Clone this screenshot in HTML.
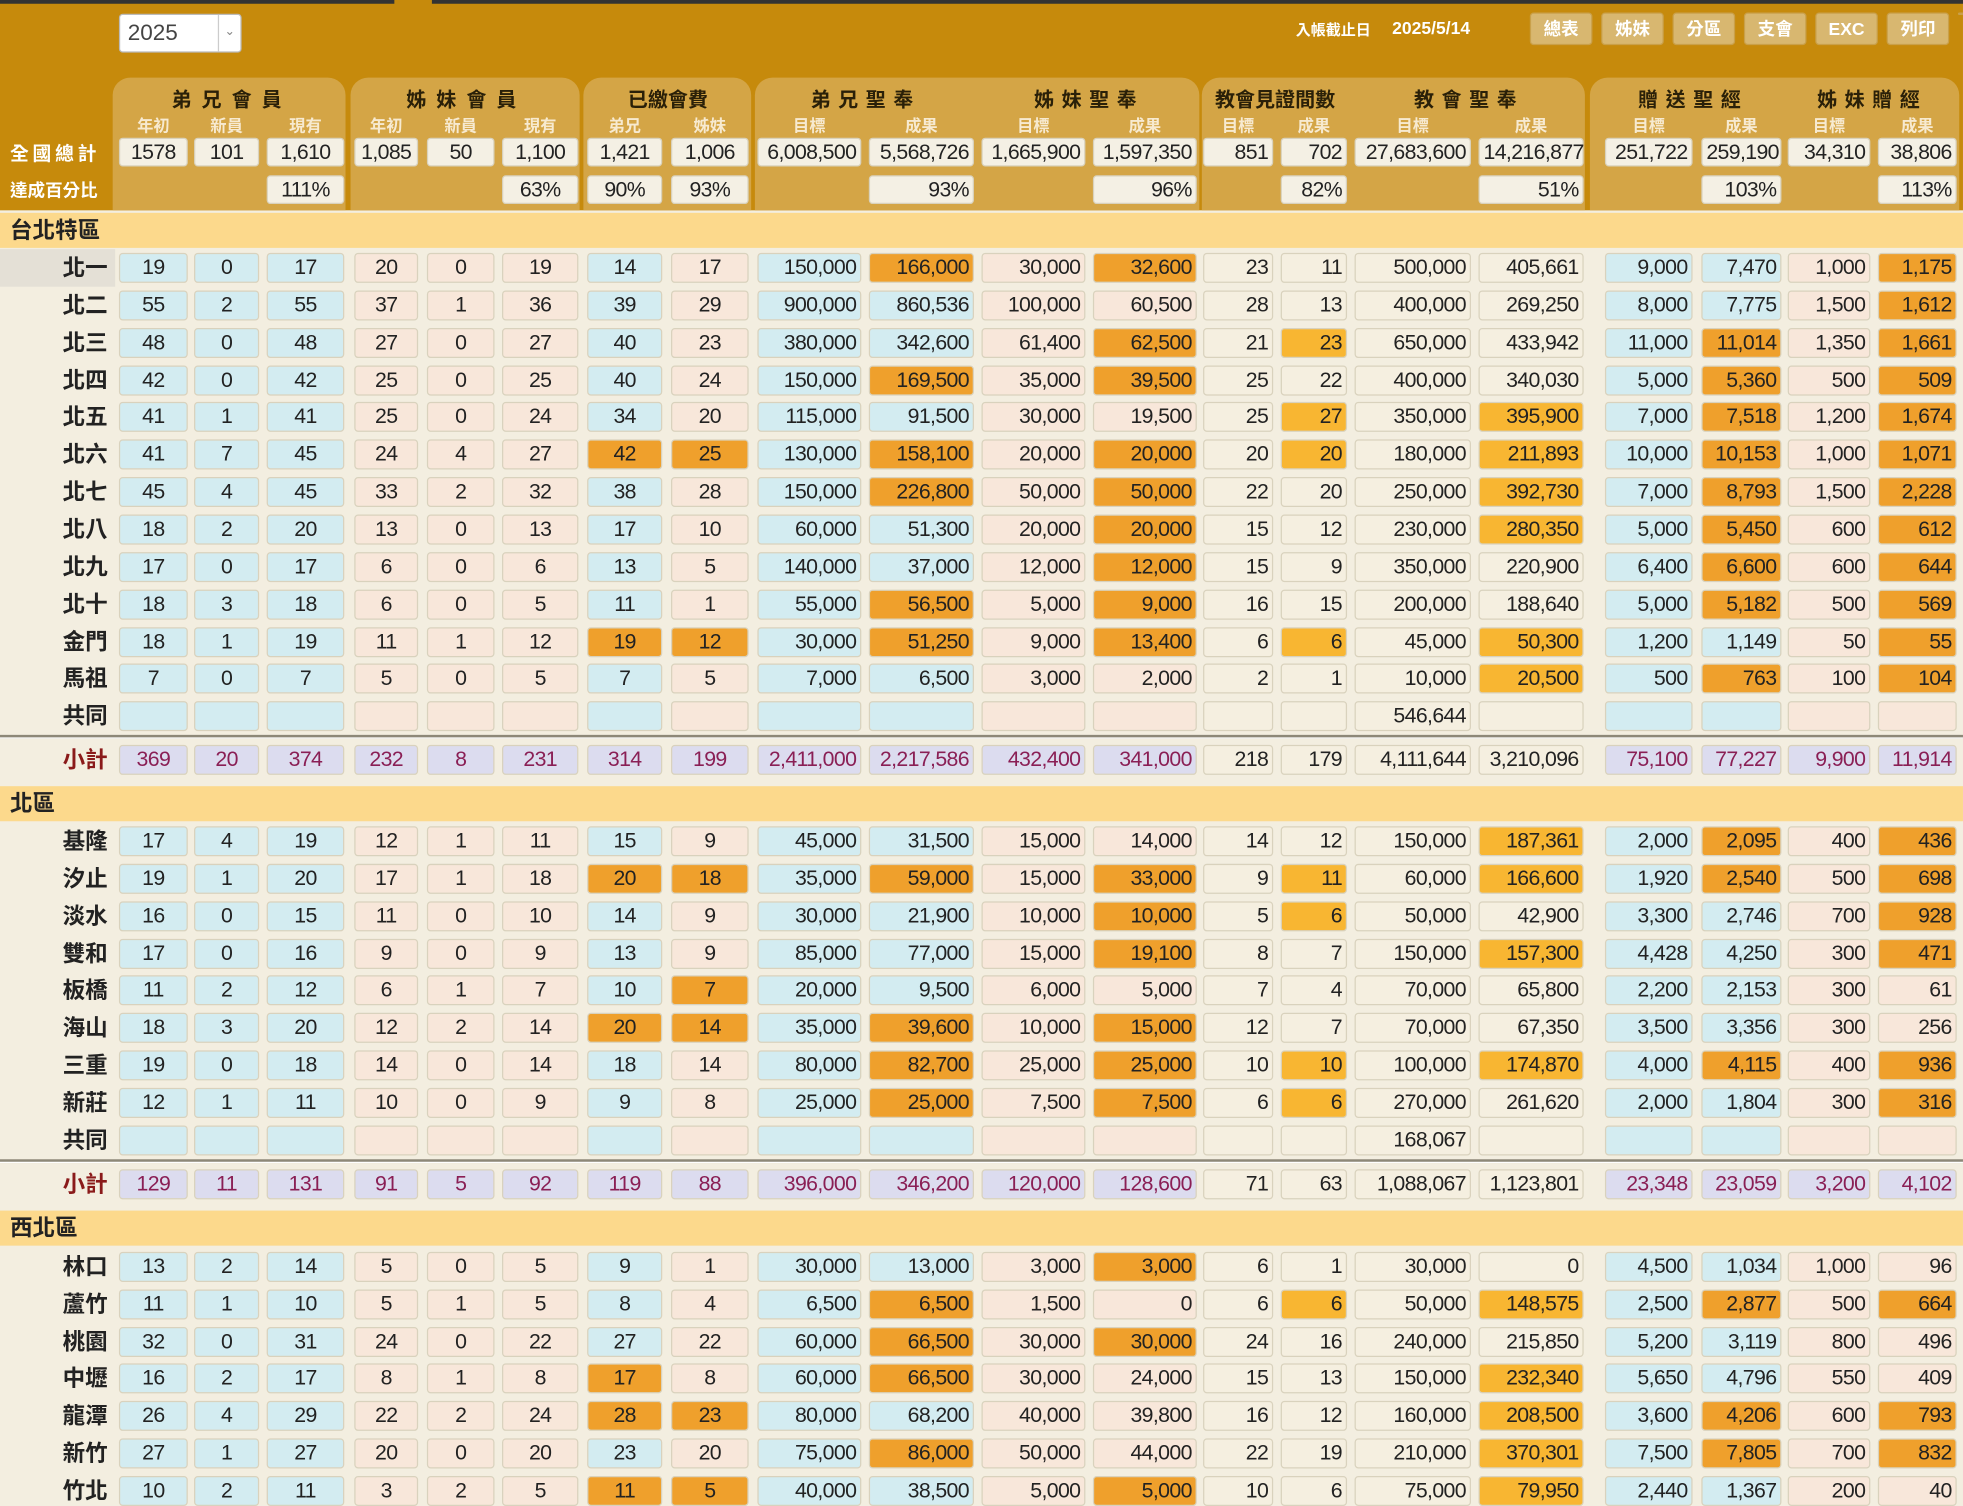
<!DOCTYPE html>
<html><head><meta charset="utf-8">
<style>
html,body{margin:0;padding:0;width:1963px;height:1506px;overflow:hidden;background:#f3eee0;}
#wrap{position:absolute;left:0;top:0;width:1568px;height:1203px;transform:scale(1.2519);transform-origin:0 0;font-family:"Liberation Sans","Noto Sans CJK TC",sans-serif;}
.a{position:absolute;box-sizing:border-box;}
.cell{border:1px solid #d9d2bd;border-radius:3px;font-size:17px;line-height:22px;color:#222;white-space:nowrap;padding:0 3px;letter-spacing:-0.5px;}
.hb{background:#d4a546;border-radius:14px 14px 0 0;}
.ht{color:#2a2008;font-weight:bold;font-size:16px;text-align:center;letter-spacing:6px;}
.hs{color:#f7ead0;font-weight:bold;font-size:13px;text-align:center;}
.btn{background:#d8b770;color:#fff;font-weight:bold;font-size:14px;text-align:center;line-height:24px;border-radius:3px;border:1px solid #c9a04a;}
.lab{font-weight:bold;font-size:18px;text-align:right;color:#222;}
</style></head><body>
<div id="wrap">
<div class="a" style="left:0;top:0;width:1568px;height:168px;background:#c68a0c"></div>
<div class="a" style="left:0;top:0;width:315px;height:3px;background:#333"></div>
<div class="a" style="left:345px;top:0;width:1223px;height:3px;background:#333"></div>
<div class="a" style="left:95px;top:11px;width:98px;height:31px;background:#fff;border:1px solid #bbb;border-radius:3px;font-size:18px;line-height:28px;padding-left:6px;color:#444">2025<span style="position:absolute;right:0;top:0;width:17px;height:29px;border-left:1px solid #ccc;font-size:10px;text-align:center;color:#888">⌄</span></div>
<div class="a" style="left:1035px;top:15px;color:#fff;font-weight:bold;font-size:12px">入帳截止日</div>
<div class="a" style="left:1112px;top:14px;color:#fff;font-weight:bold;font-size:14px">2025/5/14</div>
<div class="a btn" style="left:1222px;top:10px;width:50px">總表</div>
<div class="a btn" style="left:1279px;top:10px;width:50px">姊妹</div>
<div class="a btn" style="left:1336px;top:10px;width:50px">分區</div>
<div class="a btn" style="left:1393px;top:10px;width:50px">支會</div>
<div class="a btn" style="left:1450px;top:10px;width:50px">EXC</div>
<div class="a btn" style="left:1507px;top:10px;width:50px">列印</div>
<div class="a btn" style="left:1564px;top:10px;width:10px"></div>
<div class="a" style="left:8px;top:112px;color:#fff;font-weight:bold;font-size:15px;letter-spacing:3px">全國總計</div>
<div class="a" style="left:8px;top:142px;color:#fff;font-weight:bold;font-size:14px">達成百分比</div>
</div>
<script>
const W=document.getElementById('wrap');
const colX=[95,155,213,283,341,401,469,536,605,694,784,873,961,1023,1082,1181,1282,1359,1428,1500];
const colW=[55,52,62,51,54,61,60,62,83,84,83,83,56,53,93,84,70,64,66,63];
const colBg=['#d3ecf1','#d3ecf1','#d3ecf1','#f8e7da','#f8e7da','#f8e7da','#d3ecf1','#f8e7da','#d3ecf1','#d3ecf1','#f8e7da','#f8e7da','#f5efe0','#f5efe0','#f5efe0','#f5efe0','#d3ecf1','#d3ecf1','#f8e7da','#f8e7da'];
const groups=[[90,276,'弟兄會員'],[280,463,'姊妹會員'],[466,600,'已繳會費'],[603,958,''],[960,1266,''],[1270,1565,''],[1568,1600,'']];
const titles=[[95,275,'弟兄會員',8],[283,462,'姊妹會員',8],[469,598,'已繳會費',0],[605,778,'弟兄聖奉',6],[784,956,'姊妹聖奉',6],[961,1076,'教會見證間數',0],[1082,1265,'教會聖奉',6],[1282,1423,'贈送聖經',6],[1428,1563,'姊妹贈經',6]];
const subHeads=['年初','新員','現有','年初','新員','現有','弟兄','姊妹','目標','成果','目標','成果','目標','成果','目標','成果','目標','成果','目標','成果'];
const totals=['1578','101','1,610','1,085','50','1,100','1,421','1,006','6,008,500','5,568,726','1,665,900','1,597,350','851','702','27,683,600','14,216,877','251,722','259,190','34,310','38,806'];
const pcts=['','','111%','','','63%','90%','93%','','93%','','96%','','82%','','51%','','103%','','113%'];
const sec1Names=['北一','北二','北三','北四','北五','北六','北七','北八','北九','北十','金門','馬祖','共同'];
const sec1Rows=[
'19,0,17,20,0,19,14,17,150000,166000*,30000,32600*,23,11,500000,405661,9000,7470,1000,1175*',
'55,2,55,37,1,36,39,29,900000,860536,100000,60500,28,13,400000,269250,8000,7775,1500,1612*',
'48,0,48,27,0,27,40,23,380000,342600,61400,62500*,21,23*,650000,433942,11000,11014*,1350,1661*',
'42,0,42,25,0,25,40,24,150000,169500*,35000,39500*,25,22,400000,340030,5000,5360*,500,509*',
'41,1,41,25,0,24,34,20,115000,91500,30000,19500,25,27*,350000,395900*,7000,7518*,1200,1674*',
'41,7,45,24,4,27,42*,25*,130000,158100*,20000,20000*,20,20*,180000,211893*,10000,10153*,1000,1071*',
'45,4,45,33,2,32,38,28,150000,226800*,50000,50000*,22,20,250000,392730*,7000,8793*,1500,2228*',
'18,2,20,13,0,13,17,10,60000,51300,20000,20000*,15,12,230000,280350*,5000,5450*,600,612*',
'17,0,17,6,0,6,13,5,140000,37000,12000,12000*,15,9,350000,220900,6400,6600*,600,644*',
'18,3,18,6,0,5,11,1,55000,56500*,5000,9000*,16,15,200000,188640,5000,5182*,500,569*',
'18,1,19,11,1,12,19*,12*,30000,51250*,9000,13400*,6,6*,45000,50300*,1200,1149,50,55*',
'7,0,7,5,0,5,7,5,7000,6500,3000,2000,2,1,10000,20500*,500,763*,100,104*',
',,,,,,,,,,,,,,546644,,,,,'];
const sec1Sub='369,20,374,232,8,231,314,199,2411000,2217586,432400,341000,218,179,4111644,3210096,75100,77227,9900,11914';
const sec2Names=['基隆','汐止','淡水','雙和','板橋','海山','三重','新莊','共同'];
const sec2Rows=[
'17,4,19,12,1,11,15,9,45000,31500,15000,14000,14,12,150000,187361*,2000,2095*,400,436*',
'19,1,20,17,1,18,20*,18*,35000,59000*,15000,33000*,9,11*,60000,166600*,1920,2540*,500,698*',
'16,0,15,11,0,10,14,9,30000,21900,10000,10000*,5,6*,50000,42900,3300,2746,700,928*',
'17,0,16,9,0,9,13,9,85000,77000,15000,19100*,8,7,150000,157300*,4428,4250,300,471*',
'11,2,12,6,1,7,10,7*,20000,9500,6000,5000,7,4,70000,65800,2200,2153,300,61',
'18,3,20,12,2,14,20*,14*,35000,39600*,10000,15000*,12,7,70000,67350,3500,3356,300,256',
'19,0,18,14,0,14,18,14,80000,82700*,25000,25000*,10,10*,100000,174870*,4000,4115*,400,936*',
'12,1,11,10,0,9,9,8,25000,25000*,7500,7500*,6,6*,270000,261620,2000,1804,300,316*',
',,,,,,,,,,,,,,168067,,,,,'];
const sec2Sub='129,11,131,91,5,92,119,88,396000,346200,120000,128600,71,63,1088067,1123801,23348,23059,3200,4102';
const sec3Names=['林口','蘆竹','桃園','中壢','龍潭','新竹','竹北'];
const sec3Rows=[
'13,2,14,5,0,5,9,1,30000,13000,3000,3000*,6,1,30000,0,4500,1034,1000,96',
'11,1,10,5,1,5,8,4,6500,6500*,1500,0,6,6*,50000,148575*,2500,2877*,500,664*',
'32,0,31,24,0,22,27,22,60000,66500*,30000,30000*,24,16,240000,215850,5200,3119,800,496',
'16,2,17,8,1,8,17*,8,60000,66500*,30000,24000,15,13,150000,232340*,5650,4796,550,409',
'26,4,29,22,2,24,28*,23*,80000,68200,40000,39800,16,12,160000,208500*,3600,4206*,600,793*',
'27,1,27,20,0,20,23,20,75000,86000*,50000,44000,22,19,210000,370301*,7500,7805*,700,832*',
'10,2,11,3,2,5,11*,5*,40000,38500,5000,5000*,10,6,75000,79950*,2440,1367,200,40'];

function el(cls,x,y,w,h,style,txt){const d=document.createElement('div');d.className='a '+cls;d.style.cssText=`left:${x}px;top:${y}px;width:${w}px;height:${h}px;`+(style||'');if(txt!==undefined)d.textContent=txt;W.appendChild(d);return d;}
function fmt(v){if(v==='')return '';const n=Number(v);return n>=1000?n.toLocaleString('en-US'):String(n);}
const align=i=>i<8?'center':'right';

groups.forEach((g,i)=>{const d=el('hb',g[0],62,g[1]-g[0],106);

});
titles.forEach((t,i)=>{const d=el('ht',t[0],66,t[1]-t[0],20,'letter-spacing:'+t[3]+'px',t[2]);

});
subHeads.forEach((s,i)=>{const d=el('hs',colX[i],90,colW[i],16,'',s);

});
totals.forEach((v,i)=>{const d=el('cell',colX[i],110,colW[i],23,'background:#f4f0e4;text-align:'+align(i),v);

});
pcts.forEach((v,i)=>{if(!v)return;const d=el('cell',colX[i],140,colW[i],23,'background:#f4f0e4;text-align:'+align(i),v);

});

function band(y,name){const d=el('',0,y,1568,28,'background:#fcd98c;font-weight:bold;font-size:18px;line-height:28px;padding-left:8px;color:#222',name);

}
function row(y,name,str,isSub,hl){
 const lab=el('lab',0,y-12,86,24,'line-height:24px;'+(isSub?'color:#8a1a1a;':''),name);
 
 
 if(hl){const b=el('',0,y-15,92,30,'background:#e4e0d6;z-index:-1');lab.style.zIndex=1;}
 str.split(',').forEach((raw,i)=>{
  const star=raw.endsWith('*');const v=raw.replace('*','');
  let bg=colBg[i],col='#222';
  if(isSub){if(i<12||i>15){bg='#dcdcef';col='#8a1f55';}}
  if(star)bg=(i===13||i===15)?'#f8b632':'#efa02c';
  const c=el('cell',colX[i],y-12,colW[i],24,`background:${bg};color:${col};text-align:${align(i)}`,fmt(v));
  
  
 });
}
function line(y){const d=el('',0,y,1568,3,'background:#8d8878;border-bottom:1px solid #fff');}

band(170,'台北特區');
sec1Rows.forEach((r,i)=>row(214+i*29.85,sec1Names[i],r,false,i===0));
line(587);row(607,'小計',sec1Sub,true);
band(628,'北區');
sec2Rows.forEach((r,i)=>row(672+i*29.85,sec2Names[i],r,false));
line(926);row(946,'小計',sec2Sub,true);
band(967,'西北區');
sec3Rows.forEach((r,i)=>row(1012+i*29.75,sec3Names[i],r,false));
</script>
</body></html>
